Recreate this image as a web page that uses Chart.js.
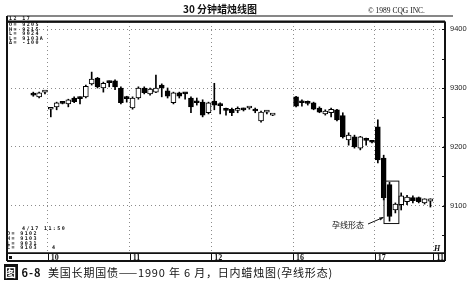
<!DOCTYPE html>
<html>
<head>
<meta charset="utf-8">
<script src="https://cdn.jsdelivr.net/npm/chart.js@4.4.1/dist/chart.umd.min.js"></script>
<style>
  html, body { margin: 0; padding: 0; background: #fff; }
  #wrap { position: relative; width: 472px; height: 292px; overflow: hidden; }
  #wrap canvas { position: absolute; left: 0; top: 0; }
  .t { position: absolute; white-space: nowrap; color: #111; }
  .cqg { font-family: "DejaVu Sans Mono", monospace; font-weight: bold; font-size: 5px; line-height: 4.6px; letter-spacing: 1.4px; }
  .cn { font-family: "Noto Sans CJK SC", sans-serif; }
</style>
</head>
<body>
<div id="wrap">
  <canvas id="candleChart" width="472" height="292"></canvas>
  <div class="t cn" style="left:183px;top:3px;font-size:10px;font-weight:bold;line-height:12px;">30 分钟蜡烛线图</div>
  <div class="t" style="left:368px;top:7px;font:7.5px/8px 'Liberation Serif';">© 1989 CQG INC.</div>
  <div class="t cqg" style="left:9px;top:16px;">12 17</div>
  <div class="t cqg" style="left:9px;top:22px;">O= 9205<br>H= 9215<br>L= 9024<br>L= 9103A<br>Δ= -100</div>
  <div class="t cqg" style="left:22px;top:226px;">4/17 11:50</div>
  <div class="t cqg" style="left:7px;top:231px;line-height:4.8px;">O= 9102<br>H= 9103<br>L= 9031<br>C= 9103</div>
  <div class="t cqg" style="left:52px;top:245px;">4</div>
  <div class="t" style="left:434px;top:245px;font:italic bold 8px/8px 'Liberation Serif';">H</div>
  <div class="t cn" style="left:332px;top:220px;font-size:8px;line-height:9px;">孕线形态</div>
  <div class="t cn" style="left:4px;top:266px;font-size:11px;line-height:12px;letter-spacing:1px;">
    <span style="background:#111;color:#fff;font-weight:bold;padding:0 1px;">图</span><b> 6-8</b>
  </div>
  <div class="t cn" style="left:48px;top:266px;font-size:11px;line-height:12px;letter-spacing:0.8px;">美国长期国债——1990 年 6 月，日内蜡烛图(孕线形态)</div>
</div>
<script>
// 30分钟K线：每个位置一根，null = 没有数据
const opens  = [null, null, null, null,
  9290, 9285, 9293,
  9264, 9268, 9276, 9273, 9283, 9283, 9285, 9307, 9317, 9300, 9310, 9312, 9300, 9283,
  9266, 9283, 9300, 9290, 9293, 9305, 9295, 9275, 9292, 9291, 9283, 9276, 9276, 9258,
  9278, 9272, 9263, 9264, 9262, 9264, 9266, 9263, 9244, 9259, 9254, null, null, null,
  9285, 9276, 9276, 9275, 9266, 9256, 9258, 9263, 9253, 9212, 9217, 9198, 9212, 9209,
  9234, 9181, 9136, 9093, 9102, 9107, 9114, 9114, 9105, 9108,
  null, null];
const highs  = [null, null, null, null,
  9293, 9293, 9295,
  9266, 9276, 9276, 9281, 9285, 9285, 9305, 9327, 9318, 9310, 9312, 9314, 9302, 9286,
  9285, 9302, 9302, 9300, 9322, 9307, 9300, 9293, 9293, 9292, 9285, 9283, 9280, 9276,
  9308, 9275, 9266, 9266, 9268, 9266, 9267, 9266, 9261, 9262, 9255, null, null, null,
  9286, 9280, 9278, 9276, 9268, 9263, 9266, 9264, 9258, 9224, 9220, 9218, 9215, 9210,
  9246, 9186, 9140, 9105, 9122, 9118, 9117, 9115, 9112, 9112,
  null, null];
const lows   = [null, null, null, null,
  9286, 9283, 9290,
  9251, 9263, 9273, 9268, 9275, 9273, 9283, 9305, 9300, 9293, 9302, 9297, 9273, 9276,
  9264, 9281, 9290, 9288, 9292, 9285, 9283, 9273, 9283, 9281, 9258, 9271, 9251, 9256,
  9263, 9256, 9254, 9253, 9258, 9261, 9264, 9258, 9242, 9256, 9253, null, null, null,
  9268, 9269, 9271, 9263, 9258, 9254, 9251, 9244, 9215, 9203, 9198, 9195, 9203, 9207,
  9173, 9110, 9074, 9088, 9093, 9102, 9105, 9105, 9103, 9098,
  null, null];
const closes = [null, null, null, null,
  9288, 9292, 9294,
  9265, 9275, 9274, 9280, 9277, 9282, 9303, 9315, 9302, 9308, 9309, 9302, 9275, 9282,
  9283, 9300, 9292, 9298, 9300, 9300, 9286, 9292, 9286, 9290, 9268, 9275, 9254, 9275,
  9271, 9270, 9262, 9258, 9263, 9263, 9266, 9261, 9259, 9260, 9254, null, null, null,
  9269, 9275, 9274, 9264, 9259, 9261, 9264, 9246, 9217, 9220, 9200, 9217, 9211, 9208,
  9178, 9114, 9082, 9103, 9117, 9115, 9109, 9107, 9112, 9112,
  null, null];

// 日期分隔（每天第一根K线的位置）和底部标签
const dayStarts = [7, 21, 35, 49, 63, 73];
const dayLabels = ['10', '11', '12', '16', '17', '11'];

// 右侧价格刻度
const yTickValues = [9050, 9100, 9150, 9200, 9250, 9300, 9350, 9400];
const yLabelValues = [9100, 9200, 9300, 9400];

// 孕线形态方框：两根K线 + 价格范围
const haramiSlots = [65, 66];
const haramiRange = [9070, 9142];

const slotLabels = opens.map((_, i) => {
    const k = dayStarts.indexOf(i);
    return k >= 0 ? dayLabels[k] : '';
});
const wickData = opens.map((o, i) => o === null ? null : [lows[i], highs[i]]);
const bodyData = opens.map((o, i) => o === null ? null : [o, closes[i]]);
const bodyColors = opens.map((o, i) => (o !== null && closes[i] < o) ? '#000' : '#fff');

// 画外框、底部日期条、右侧小刻度和孕线方框
const framePlugin = {
    id: 'frame',
    afterDraw(chart) {
        const { ctx, chartArea: a, scales: { x, y } } = chart;
        const step = x.getPixelForValue(1) - x.getPixelForValue(0);
        const line = (x1, y1, x2, y2) => { ctx.beginPath(); ctx.moveTo(x1, y1); ctx.lineTo(x2, y2); ctx.stroke(); };
        ctx.save();
        ctx.strokeStyle = '#111';

        ctx.lineWidth = 1.5;
        ctx.strokeRect(a.left, a.top, a.right - a.left, a.bottom - a.top);
        ctx.lineWidth = 1.2;
        line(a.left, 16, a.right + 8, 16);
        ctx.lineWidth = 2;
        line(a.left, a.top - 0.5, a.right, a.top - 0.5);
        line(a.left, 16, a.left, a.bottom + 8);

        // 日期条
        ctx.lineWidth = 1;
        line(a.left, a.bottom + 0.5, a.right, a.bottom + 0.5);
        ctx.lineWidth = 2;
        line(a.left, a.bottom + 8, a.right, a.bottom + 8);
        line(a.right, a.top, a.right, a.bottom + 8);
        ctx.lineWidth = 1;
        dayStarts.forEach(s => {
            const bx = Math.round(x.getPixelForValue(s) - step / 2) + 0.5;
            line(bx, a.bottom, bx, a.bottom + 8);
        });
        ctx.fillStyle = '#111';
        ctx.fillRect(a.left + 2, a.bottom + 3, 3, 3);

        // 右边框内侧小刻度
        y.ticks.forEach(t => {
            const py = Math.round(y.getPixelForValue(t.value)) + 0.5;
            line(a.right - 3, py, a.right, py);
        });

        // 孕线方框和箭头
        const bx1 = x.getPixelForValue(haramiSlots[0]) - 5.5;
        const bx2 = x.getPixelForValue(haramiSlots[1]) + 3.5;
        const by1 = y.getPixelForValue(haramiRange[1]);
        const by2 = y.getPixelForValue(haramiRange[0]);
        ctx.lineWidth = 1;
        ctx.strokeRect(bx1, by1, bx2 - bx1, by2 - by1);
        line(368, 224, bx1 - 1, by2 - 6);
        ctx.beginPath();
        ctx.moveTo(bx1, by2 - 6.5);
        ctx.lineTo(bx1 - 5, by2 - 6);
        ctx.lineTo(bx1 - 3.5, by2 - 3);
        ctx.closePath();
        ctx.fill();
        ctx.restore();
    }
};

const config = {
    type: 'bar',
    data: {
        labels: slotLabels,
        datasets: [
            {
                label: 'body',
                data: bodyData,
                backgroundColor: bodyColors,
                borderColor: '#000',
                borderWidth: 1,
                borderSkipped: false,
                barThickness: 5,
                minBarLength: 2,
                grouped: false,
                order: 1
            },
            {
                label: 'wick',
                data: wickData,
                backgroundColor: '#000',
                barThickness: 1,
                minBarLength: 1,
                grouped: false,
                order: 2
            }
        ]
    },
    options: {
        responsive: false,
        animation: false,
        devicePixelRatio: 1,
        layout: { padding: { left: 7, top: 22, right: 0, bottom: 31 } },
        plugins: {
            legend: { display: false },
            tooltip: { enabled: false }
        },
        scales: {
            x: {
                offset: true,
                afterFit: s => { s.height = 8; },
                ticks: {
                    autoSkip: false,
                    maxRotation: 0,
                    padding: 0,
                    labelOffset: 4,
                    color: '#111',
                    font: { family: 'Liberation Serif', size: 8, weight: 'bold' }
                },
                grid: {
                    offset: true,
                    drawTicks: false,
                    color: c => dayStarts.includes(c.index) ? 'rgba(0,0,0,0.45)' : 'rgba(0,0,0,0)'
                },
                border: { display: false, dash: [1, 3] }
            },
            y: {
                position: 'right',
                min: 9020,
                max: 9412,
                afterBuildTicks: s => { s.ticks = yTickValues.map(v => ({ value: v })); },
                afterFit: s => { s.width = 27; },
                ticks: {
                    padding: 5,
                    color: '#222',
                    font: { family: 'Liberation Sans', size: 7.5 },
                    callback: v => yLabelValues.includes(v) ? String(v) : ''
                },
                grid: {
                    drawTicks: false,
                    color: c => (c.tick && yLabelValues.includes(c.tick.value)) ? 'rgba(0,0,0,0.45)' : 'rgba(0,0,0,0)'
                },
                border: { display: false, dash: [1, 3] }
            }
        }
    },
    plugins: [framePlugin]
};

new Chart(document.getElementById('candleChart').getContext('2d'), config);
</script>
</body>
</html>
